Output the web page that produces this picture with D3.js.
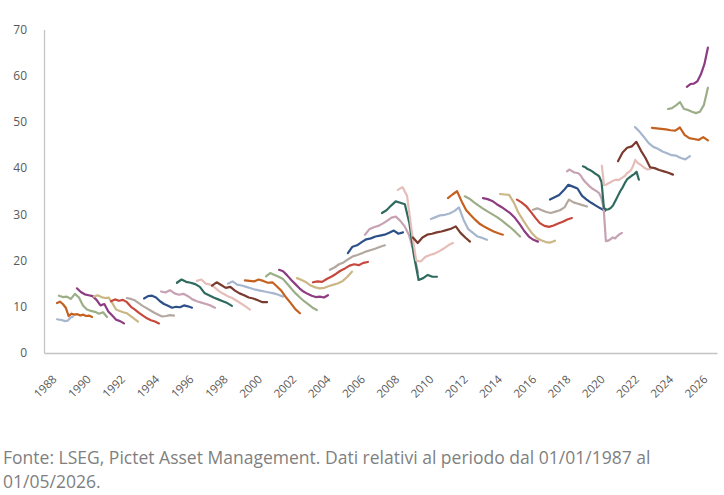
<!DOCTYPE html>
<html>
<head>
<meta charset="utf-8">
<script src="https://cdn.jsdelivr.net/npm/d3@7"></script>
<style>
  body { margin: 0; background: #fff; }
  svg text { font-family: 'Open Sans', sans-serif; }
</style>
</head>
<body>
<div id="chart"></div>
<script>
// x axis labels and y ticks
const yearTicks = d3.range(1988, 2027, 2);
const valueTicks = [0, 10, 20, 30, 40, 50, 60, 70];

// colour cycle used by the series, one per segment in order
const palette = ['#a6b6ce', '#c5611f', '#9cae88', '#8d3c82', '#cbb686', '#c6473b',
  '#b3a89f', '#2d5089', '#c6a2b3', '#2f6a5f', '#e5bdb9', '#7a3a2d'];

// each segment: start year, end year, values spread evenly between them
const segmentStart = [1988.12, 1988.12, 1988.23, 1989.28, 1990.28, 1991.27, 1992.2, 1993.2,
  1994.19, 1995.12, 1996.29, 1997.17, 1998.1, 1999.09, 2000.32, 2001.08, 2002.13, 2003.06,
  2004.05, 2005.1, 2006.1, 2007.09, 2008.02, 2008.9, 2009.95, 2010.94, 2011.93, 2012.99,
  2013.98, 2014.97, 2015.9, 2016.9, 2017.89, 2018.82, 2019.93, 2020.87, 2021.86, 2022.85,
  2023.79, 2024.89];

const segmentEnd = [1989.05, 1990.16, 1991.04, 1992.03, 1992.85, 1994.07, 1994.95, 1996.0,
  1997.34, 1998.33, 1999.38, 2000.38, 2001.31, 2002.3, 2003.29, 2003.94, 2005.34, 2006.27,
  2007.26, 2008.32, 2009.19, 2010.3, 2011.23, 2012.23, 2013.22, 2014.15, 2015.15, 2016.2,
  2017.19, 2018.18, 2019.06, 2020.11, 2021.1, 2022.09, 2022.85, 2024.08, 2025.07, 2026.12,
  2026.12, 2026.12];

const segmentValues = [
  [7.3, 7.2, 7.1, 6.9, 7.0, 7.6, 7.9],
  [10.8, 11.1, 10.6, 9.8, 8.0, 8.5, 8.3, 8.4, 8.1, 8.3, 8.0, 8.1, 7.8],
  [12.4, 12.1, 12.2, 11.7, 12.8, 12.0, 10.3, 9.4, 9.1, 8.9, 8.5, 8.8, 7.8],
  [14.0, 13.2, 12.7, 12.5, 12.3, 11.5, 10.3, 10.6, 9.0, 8.1, 7.2, 6.9, 6.4],
  [12.2, 12.5, 12.1, 11.9, 12.0, 10.8, 9.4, 9.1, 8.8, 8.6, 8.0, 7.4, 6.8],
  [11.2, 11.6, 11.3, 11.5, 11.0, 10.0, 9.4, 8.7, 8.1, 7.5, 7.1, 6.8, 6.4],
  [11.9, 11.7, 11.4, 10.8, 10.2, 9.7, 9.2, 8.7, 8.3, 7.9, 8.0, 8.2, 8.1],
  [11.8, 12.3, 12.4, 12.0, 11.2, 10.6, 10.2, 9.8, 10.0, 9.9, 10.3, 10.1, 9.8],
  [13.3, 13.1, 13.6, 12.9, 12.6, 12.8, 12.3, 11.6, 11.2, 10.9, 10.6, 10.3, 9.8],
  [15.2, 15.9, 15.4, 15.2, 14.9, 14.3, 13.0, 12.5, 12.0, 11.6, 11.2, 10.8, 10.2],
  [15.6, 15.9, 15.0, 14.8, 14.2, 13.4, 12.8, 12.3, 11.9, 11.3, 10.7, 10.1, 9.4],
  [14.6, 15.3, 14.7, 14.1, 14.3, 13.5, 12.9, 12.5, 12.0, 11.8, 11.4, 11.0, 11.0],
  [15.0, 15.5, 14.8, 14.6, 14.3, 14.0, 13.7, 13.5, 13.3, 13.1, 12.9, 12.6, 12.2],
  [15.7, 15.6, 15.5, 15.9, 15.6, 15.2, 15.3, 14.4, 13.4, 12.0, 10.8, 9.5, 8.6],
  [16.6, 17.3, 16.9, 16.5, 16.0, 15.0, 13.9, 12.9, 12.0, 11.2, 10.5, 9.8, 9.3],
  [18.0, 17.7, 16.8, 15.8, 14.9, 14.0, 13.3, 12.8, 12.4, 12.1, 12.2, 12.0, 12.5],
  [16.2, 15.8, 15.3, 14.6, 14.2, 14.0, 14.1, 14.5, 14.8, 15.1, 15.6, 16.5, 17.6],
  [15.3, 15.5, 15.4, 16.0, 16.5, 17.1, 17.8, 18.3, 18.9, 19.2, 19.0, 19.5, 19.7],
  [18.0, 18.5, 19.2, 19.6, 20.3, 20.9, 21.2, 21.6, 22.0, 22.3, 22.6, 23.0, 23.3],
  [21.6, 23.0, 23.3, 24.0, 24.6, 24.8, 25.2, 25.4, 25.6, 26.0, 26.5, 25.8, 26.1],
  [25.6, 26.8, 27.2, 27.5, 28.0, 28.6, 29.3, 29.5, 28.6, 27.4, 25.5, 22.0, 17.4],
  [30.3, 30.9, 31.9, 32.8, 32.5, 32.2, 28.0, 21.0, 15.8, 16.2, 16.9, 16.5, 16.5],
  [35.3, 35.9, 34.0, 26.5, 20.0, 19.8, 20.8, 21.2, 21.5, 22.0, 22.6, 23.3, 23.8],
  [25.0, 23.8, 25.0, 25.6, 25.8, 26.1, 26.3, 26.6, 26.9, 27.4, 26.0, 25.0, 24.1],
  [29.0, 29.4, 29.8, 29.9, 30.2, 30.7, 31.5, 28.8, 26.8, 26.0, 25.2, 24.9, 24.5],
  [33.5, 34.3, 35.0, 32.8, 30.9, 29.8, 28.8, 27.9, 27.3, 26.8, 26.3, 25.9, 25.6],
  [33.9, 33.4, 32.6, 31.9, 31.2, 30.6, 30.0, 29.4, 28.7, 27.9, 27.1, 26.2, 25.2],
  [33.5, 33.3, 32.9, 32.2, 31.6, 30.9, 30.2, 29.2, 27.9, 26.4, 25.2, 24.5, 24.1],
  [34.4, 34.3, 34.2, 32.6, 30.4, 28.8, 27.3, 25.9, 24.9, 24.4, 24.0, 23.9, 24.3],
  [33.2, 32.6, 31.8, 30.6, 29.3, 28.1, 27.5, 27.3, 27.6, 28.0, 28.4, 28.9, 29.2],
  [31.0, 31.3, 30.9, 30.5, 30.3, 30.6, 30.9, 31.5, 33.2, 32.6, 32.3, 32.0, 31.7],
  [33.2, 33.7, 34.2, 35.2, 36.4, 36.0, 35.6, 34.0, 33.2, 32.5, 31.9, 31.3, 30.8],
  [39.3, 39.7, 39.4, 39.1, 39.0, 38.9, 38.4, 37.6, 37.0, 36.5, 36.0, 35.6, 35.3, 35.0, 34.6,
    33.6, 31.5, 24.2, 24.3, 24.6, 25.0, 24.8, 25.3, 25.7, 26.0],
  [40.4, 40.2, 39.8, 39.6, 39.3, 38.9, 38.6, 38.2, 37.0, 31.4, 31.0, 31.1, 31.4, 32.0, 33.0,
    34.0, 35.0, 35.8, 36.8, 37.6, 38.0, 38.4, 38.7, 39.2, 37.5],
  [40.5, 36.3, 36.4, 36.7, 36.9, 37.2, 37.4, 37.5, 37.4, 37.7, 38.0, 38.3, 38.9, 39.2, 39.6,
    40.5, 41.8, 41.2, 40.9, 40.6, 40.2, 39.9, 39.7, 39.8, 40.0],
  [41.5, 43.4, 44.4, 44.7, 45.7, 43.8, 42.2, 40.2, 40.0, 39.6, 39.3, 39.0, 38.6],
  [48.9, 47.9, 46.7, 45.4, 44.6, 44.2, 43.6, 43.2, 42.8, 42.7, 42.2, 41.9, 42.6],
  [48.7, 48.6, 48.5, 48.4, 48.2, 48.1, 48.8, 47.2, 46.5, 46.3, 46.1, 46.7, 46.0],
  [52.8, 53.0, 53.6, 54.3, 52.8, 52.6, 52.2, 51.9, 52.2, 53.7, 57.4],
  [57.6, 58.2, 58.3, 58.8, 60.3, 62.5, 66.1]
];

const sourceLines = [
  'Fonte: LSEG, Pictet Asset Management. Dati relativi al periodo dal 01/01/1987 al',
  '01/05/2026.'
];

const width = 724, height = 495;

const svg = d3.select('#chart')
  .append('svg')
  .attr('width', width)
  .attr('height', height);

const x = d3.scaleLinear().domain([1987.36, 2026.65]).range([44, 717]);
const y = d3.scaleLinear().domain([0, 70]).range([353, 29.5]);

// axes
svg.append('g')
  .attr('transform', `translate(0, ${y(0)})`)
  .call(d3.axisBottom(x).tickValues(yearTicks).tickSize(0).tickFormat(d3.format('d')))
  .call(g => g.select('.domain').attr('stroke', '#c4c4c4').attr('stroke-width', 1.3))
  .call(g => g.selectAll('text')
    .attr('fill', '#595959')
    .attr('font-size', 11.5)
    .attr('text-anchor', 'end')
    .attr('dy', 0)
    .attr('transform', d => `translate(2, 27) rotate(-45)`)
    .attr('y', 0)
    .attr('x', 0));

svg.append('g')
  .attr('transform', `translate(${x.range()[0]}, 0)`)
  .call(d3.axisLeft(y).tickValues(valueTicks).tickSize(0).tickPadding(17))
  .call(g => g.select('.domain').attr('stroke', '#c4c4c4').attr('stroke-width', 1.3))
  .call(g => g.selectAll('text').attr('fill', '#595959').attr('font-size', 12));

// series
const line = d3.line()
  .x(d => x(d.t))
  .y(d => y(d.v));

const segments = segmentValues.map((vals, i) => {
  const step = (segmentEnd[i] - segmentStart[i]) / (vals.length - 1);
  return vals.map((v, j) => ({ t: segmentStart[i] + j * step, v: v }));
});

svg.append('g')
  .selectAll('path')
  .data(segments)
  .join('path')
  .attr('d', line)
  .attr('fill', 'none')
  .attr('stroke', (d, i) => palette[i % palette.length])
  .attr('stroke-width', 2.2)
  .attr('stroke-linejoin', 'round')
  .attr('stroke-linecap', 'round');

// source note
const note = svg.append('g')
  .selectAll('text')
  .data(sourceLines)
  .join('text')
  .attr('x', 3)
  .attr('y', (d, i) => 464 + i * 24)
  .attr('fill', '#7f7f7f')
  .attr('font-size', 16)
  .text(d => d);

const firstWidth = note.node().getComputedTextLength();
note.attr('font-size', 16 * 648 / firstWidth);
</script>
</body>
</html>
